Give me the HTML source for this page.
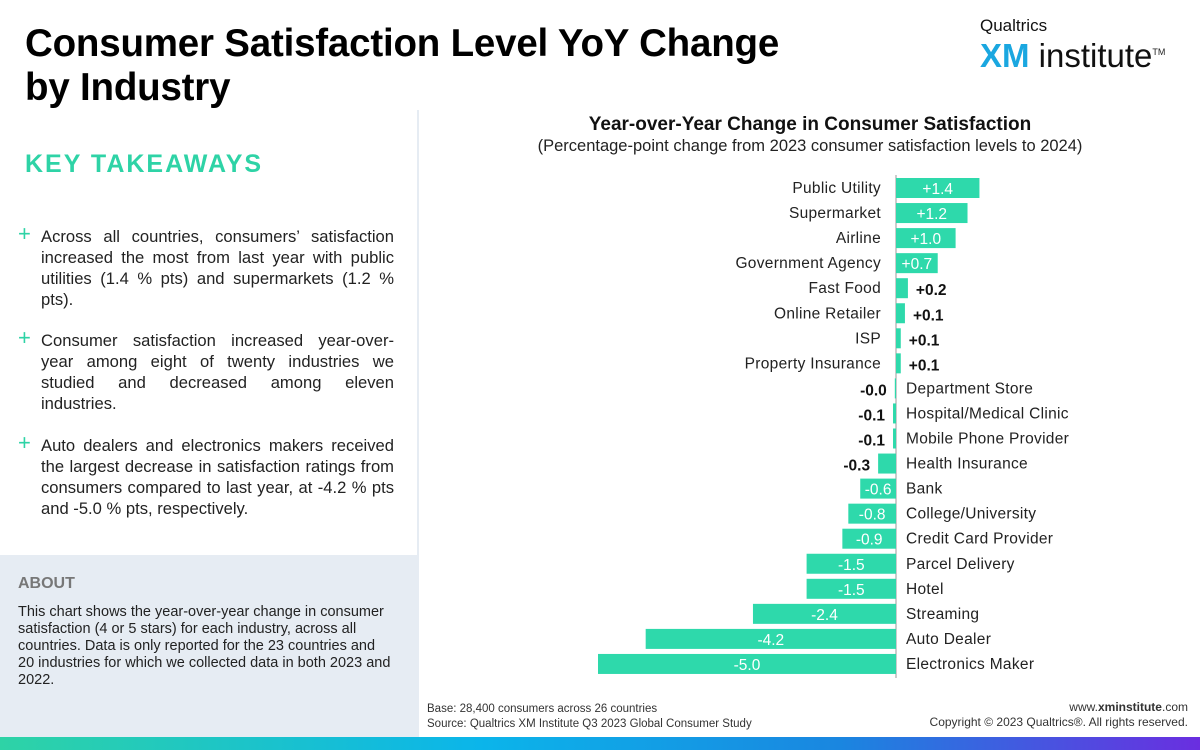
<!DOCTYPE html>
<html><head><meta charset="utf-8"><style>
body{margin:0;width:1200px;height:750px;position:relative;overflow:hidden;background:#fff;font-family:"Liberation Sans",sans-serif;color:#222}
.abs{position:absolute}
h1{position:absolute;left:25px;top:22px;margin:0;font-size:38.5px;line-height:44px;font-weight:bold;color:#000;letter-spacing:-0.2px}
.kt{left:25px;top:150px;font-size:25px;font-weight:bold;color:#2ed3a6;letter-spacing:2px}
.tk{left:20px;width:374px;font-size:16.6px;line-height:21px;text-align:justify;color:#222}
.tk span.p{position:absolute;left:-2px;top:-3px;color:#2ed3a6;font-size:22px}
.tk div{padding-left:21px}
</style></head><body>
<h1>Consumer Satisfaction Level YoY Change<br>by Industry</h1>
<div class="abs" style="left:980px;top:16px;">
<div style="font-size:17px;color:#111">Qualtrics</div>
<div style="font-size:33px;line-height:30px;margin-top:1px"><b style="color:#1aa7e0">XM</b><span style="color:#111"> institute</span><sup style="font-size:9px">TM</sup></div></div>
<div class="abs" style="left:417px;top:110px;width:2px;height:627px;background:#e6ecf3"></div>
<div class="abs kt">KEY TAKEAWAYS</div>
<div class="abs tk" style="top:226px"><span class="p">+</span><div>Across all countries, consumers’ satisfaction increased the most from last year with public utilities (1.4 % pts) and supermarkets (1.2 % pts).</div></div>
<div class="abs tk" style="top:330px"><span class="p">+</span><div>Consumer satisfaction increased year-over-year among eight of twenty industries we studied and decreased among eleven industries.</div></div>
<div class="abs tk" style="top:435px"><span class="p">+</span><div>Auto dealers and electronics makers received the largest decrease in satisfaction ratings from consumers compared to last year, at -4.2 % pts and -5.0 % pts, respectively.</div></div>
<div class="abs" style="left:0;top:555px;width:417px;height:182px;background:#e6ecf3">
<div style="position:absolute;left:18px;top:20px;font-size:16px;font-weight:bold;color:#777">ABOUT</div>
<div style="position:absolute;left:18px;top:49px;width:376px;font-size:14.5px;line-height:17px;color:#222">This chart shows the year-over-year change in consumer satisfaction (4 or 5 stars) for each industry, across all countries. Data is only reported for the 23 countries and 20 industries for which we collected data in both 2023 and 2022.</div></div>
<div class="abs" style="left:420px;width:780px;top:114px;text-align:center;font-size:19px;font-weight:bold;color:#111">Year-over-Year Change in Consumer Satisfaction</div>
<div class="abs" style="left:420px;width:780px;top:137px;text-align:center;font-size:16.5px;color:#222">(Percentage-point change from 2023 consumer satisfaction levels to 2024)</div>
<svg class="abs" style="left:0;top:0" width="1200" height="750" id="chart"></svg>
<div class="abs" style="left:427px;top:702px;font-size:11.5px;line-height:15px;color:#333">Base: 28,400 consumers across 26 countries<br>Source: Qualtrics XM Institute Q3 2023 Global Consumer Study</div>
<div class="abs" style="right:12px;top:700px;text-align:right;font-size:12px;line-height:15px;color:#333">www.<b>xminstitute</b>.com<br>Copyright © 2023 Qualtrics®. All rights reserved.</div>
<div class="abs" style="left:0;top:737px;width:1200px;height:13px;background:linear-gradient(90deg,#2ed3a6,#0bb5ea 40%,#1a86e0 70%,#6a2ee0)"></div>
<script>
const categories=["Public Utility","Supermarket","Airline","Government Agency","Fast Food","Online Retailer","ISP","Property Insurance","Department Store","Hospital/Medical Clinic","Mobile Phone Provider","Health Insurance","Bank","College/University","Credit Card Provider","Parcel Delivery","Hotel","Streaming","Auto Dealer","Electronics Maker"];
const values=[1.4,1.2,1.0,0.7,0.2,0.15,0.08,0.08,-0.02,-0.05,-0.05,-0.3,-0.6,-0.8,-0.9,-1.5,-1.5,-2.4,-4.2,-5.0];
const labels=["+1.4","+1.2","+1.0","+0.7","+0.2","+0.1","+0.1","+0.1","-0.0","-0.1","-0.1","-0.3","-0.6","-0.8","-0.9","-1.5","-1.5","-2.4","-4.2","-5.0"];
const NS="http://www.w3.org/2000/svg",svg=document.getElementById('chart');
const x0=896,k=59.6,y0=188,step=25.05,bh=20;
const xs=v=>x0+v*k, ys=i=>y0+i*step;
function mk(t,a){const e=document.createElementNS(NS,t);for(const n in a)e.setAttribute(n,a[n]);svg.appendChild(e);return e;}
const ax=mk('line',{x1:x0,x2:x0,y1:175,y2:678,stroke:'#ccc','stroke-width':2});


categories.forEach((c,i)=>{
 const v=values[i],y=ys(i),xa=Math.min(xs(0),xs(v)),w=Math.max(1,Math.abs(xs(v)-xs(0)));
 const r=mk('rect',{x:xa,y:y-bh/2,width:w,height:bh,fill:'#2ed9ab'});
 
 
 const cl=mk('text',{x:v>=0?881:906,y:y+5,'text-anchor':v>=0?'end':'start','font-size':15.5,'letter-spacing':0.3,fill:'#222','font-family':'Liberation Sans'});
 cl.textContent=c;
 
 
 const inside=w>30;let vl;
 if(inside) vl=mk('text',{x:xa+w/2,y:y+6,'text-anchor':'middle','font-size':15.5,fill:'#fff','font-family':'Liberation Sans'});
 else if(v>=0) vl=mk('text',{x:xs(v)+8,y:y+7,'text-anchor':'start','font-size':15.5,'font-weight':'bold',fill:'#111','font-family':'Liberation Sans'});
 else vl=mk('text',{x:xs(v)-8,y:y+7,'text-anchor':'end','font-size':15.5,'font-weight':'bold',fill:'#111','font-family':'Liberation Sans'});
 vl.textContent=labels[i];
 
 
});
</script>
</body></html>
